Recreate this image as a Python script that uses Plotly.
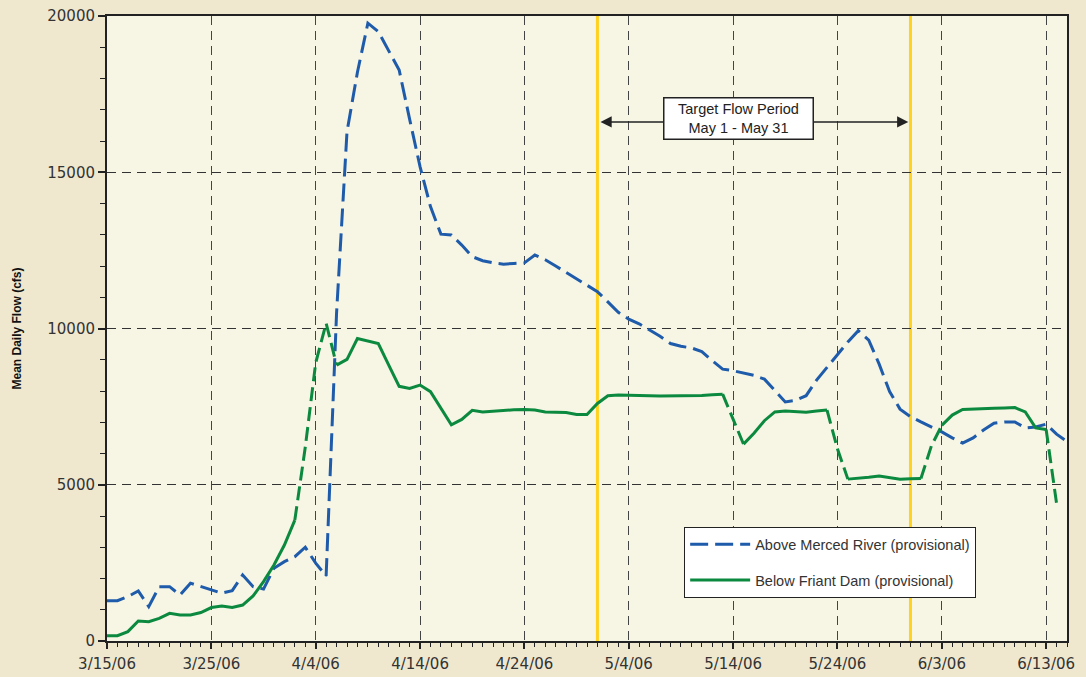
import pandas as pd
import plotly.graph_objects as go

start_date = "2006-03-15"
n_days = 93

above_merced = [
    1290, 1290, 1420, 1600, 1100, 1740, 1740, 1470, 1850, 1750,
    1630, 1530, 1610, 2110, 1740, 1660, 2330, 2540, 2700, 3000,
    2490, 2080, 10500, 16300, 18200, 19770, 19500, 18900, 18270, 16700,
    15180, 13900, 13020, 12990, 12670, 12300, 12170, 12100, 12060, 12080,
    12100, 12350, 12200, 12000, 11800, 11600, 11400, 11180, 10850, 10520,
    10300, 10150, 9950, 9750, 9520, 9430, 9380, 9260, 8970, 8700,
    8650, 8580, 8500, 8380, 8000, 7650, 7700, 7850, 8350, 8760,
    9160, 9570, 9930, 9630, 8860, 7980, 7420, 7180, 7010, 6860,
    6690, 6500, 6330, 6500, 6750, 6970, 7010, 7010, 6820, 6850,
    6940, 6620, 6380,
]

below_friant = [
    170, 170, 300, 640, 620, 725, 885, 830, 830, 910,
    1070, 1120, 1070, 1150, 1440, 1900, 2430, 3070, 3870, 6200,
    8900, 10170, 8830, 9010, 9680, 9600, 9520, 8830, 8150, 8080,
    8190, 7980, 7460, 6920, 7090, 7380, 7330, 7360, 7390, 7400,
    7410, 7390, 7330, 7320, 7310, 7250, 7250, 7600, 7850, 7870,
    7870, 7860, 7850, 7840, 7840, 7840, 7850, 7860, 7880, 7900,
    7100, 6300, 6650, 7050, 7330, 7360, 7340, 7320, 7360, 7390,
    6150, 5180, 5200, 5240, 5280, 5230, 5180, 5190, 5200, 6240,
    6900, 7230, 7410, 7430, 7440, 7450, 7460, 7470, 7330, 6820,
    6770, 4400,
]

# day-index ranges of the Friant series drawn solid / dashed
friant_solid_ranges = [(0, 18), (22, 59), (61, 69), (71, 78), (80, 90)]
friant_dashed_ranges = [(18, 22), (59, 61), (69, 71), (78, 80), (90, 91)]

tick_dates = ["2006-03-15", "2006-03-25", "2006-04-04", "2006-04-14", "2006-04-24",
              "2006-05-04", "2006-05-14", "2006-05-24", "2006-06-03", "2006-06-13"]
tick_labels = ["3/15/06", "3/25/06", "4/4/06", "4/14/06", "4/24/06",
               "5/4/06", "5/14/06", "5/24/06", "6/3/06", "6/13/06"]
y_ticks = [0, 5000, 10000, 15000, 20000]

target_start = "2006-05-01"
target_end = "2006-05-31"

dates = list(pd.date_range(start_date, periods=n_days, freq="D"))


def build(series, ranges):
    xs, ys = [], []
    for a, b in ranges:
        for d in range(a, b + 1):
            xs.append(dates[d])
            ys.append(series[d])
        xs.append(None)
        ys.append(None)
    return xs, ys


BLUE = "#1E5BAA"
GREEN = "#0B8A3F"
YELLOW = "#FFD21F"

fig = go.Figure()

fig.add_trace(go.Scatter(
    x=dates[:len(above_merced)], y=above_merced, mode="lines",
    name="Above Merced River (provisional)",
    line=dict(color=BLUE, width=3, dash="18px,7px"),
    legendgroup="a",
))

sx, sy = build(below_friant, friant_solid_ranges)
fig.add_trace(go.Scatter(
    x=sx, y=sy, mode="lines", name="Below Friant Dam (provisional)",
    line=dict(color=GREEN, width=3), connectgaps=False, legendgroup="b",
))
dx, dy = build(below_friant, friant_dashed_ranges)
fig.add_trace(go.Scatter(
    x=dx, y=dy, mode="lines", name="Below Friant Dam (provisional)",
    line=dict(color=GREEN, width=3, dash="14px,6px"), connectgaps=False,
    legendgroup="b", showlegend=False,
))

for d in (target_start, target_end):
    fig.add_shape(type="line", xref="x", yref="paper", x0=d, x1=d, y0=0, y1=1,
                  line=dict(color=YELLOW, width=3), layer="between")

arrow_y = 16610
box_x = "2006-05-14 12:00"
fig.add_annotation(x="2006-05-01 07:00", y=arrow_y, ax=box_x, ay=arrow_y,
                   xref="x", yref="y", axref="x", ayref="y", text="",
                   showarrow=True, arrowhead=2, arrowsize=1.4, arrowwidth=1.6,
                   arrowcolor="#222222")
fig.add_annotation(x="2006-05-30 19:00", y=arrow_y, ax=box_x, ay=arrow_y,
                   xref="x", yref="y", axref="x", ayref="y", text="",
                   showarrow=True, arrowhead=2, arrowsize=1.4, arrowwidth=1.6,
                   arrowcolor="#222222")
fig.add_annotation(x=box_x, y=16720, xref="x", yref="y",
                   text="Target Flow Period<br>May 1 - May 31", showarrow=False,
                   font=dict(family="Liberation Sans, Arial", size=14.5, color="#222222"),
                   bgcolor="white", bordercolor="#222222", borderwidth=1.5,
                   width=146, height=38, borderpad=1, align="center")

fig.update_layout(
    width=1086, height=677, autosize=False,
    margin=dict(l=107, r=19, t=16, b=36, autoexpand=False),
    paper_bgcolor="#EFE8CF",
    plot_bgcolor="#F7F5E4",
    font=dict(family="DejaVu Sans", color="#333333"),
    showlegend=True,
    legend=dict(
        x=0.601, y=0.1824, xanchor="left", yanchor="top",
        bgcolor="white", bordercolor="#222222", borderwidth=1.2,
        font=dict(family="Liberation Sans, Arial", size=14.5, color="#333333"),
        itemwidth=60, tracegroupgap=14, entrywidth=250,
    ),
)

fig.update_xaxes(
    range=[dates[0], dates[92]],
    tickvals=tick_dates, ticktext=tick_labels,
    tickfont=dict(family="DejaVu Sans", size=15, color="#333333"),
    ticks="outside", ticklen=6, tickwidth=1.5, tickcolor="#222222",
    minor=dict(dtick=86400000, tick0=start_date, ticks="outside", ticklen=4,
               tickwidth=1, tickcolor="#222222", showgrid=False),
    showgrid=True, gridcolor="#444444", gridwidth=1, griddash="9px,6px",
    showline=True, linecolor="#222222", linewidth=2, mirror=True,
    zeroline=False, ticklabelstandoff=2, automargin=False,
)

fig.update_yaxes(
    range=[0, 20000],
    tickvals=y_ticks, ticktext=[str(v) for v in y_ticks],
    tickfont=dict(family="DejaVu Sans", size=15, color="#333333"),
    ticks="outside", ticklen=7, tickwidth=1.5, tickcolor="#222222",
    minor=dict(dtick=1000, ticks="outside", ticklen=5, tickwidth=1,
               tickcolor="#222222", showgrid=False),
    showgrid=True, gridcolor="#333333", gridwidth=1, griddash="9px,6px",
    showline=True, linecolor="#222222", linewidth=2, mirror=True,
    zeroline=False, automargin=False,
    title=dict(text="<b>Mean Daily Flow (cfs)</b>", standoff=23,
               font=dict(family="Liberation Sans, Arial", size=12, color="#111111")),
)

fig.write_html(
    "out.html",
    config={"displayModeBar": False},
    post_script="document.body.style.margin='0';document.body.style.padding='0';"
                "document.body.style.overflow='hidden';",
)
